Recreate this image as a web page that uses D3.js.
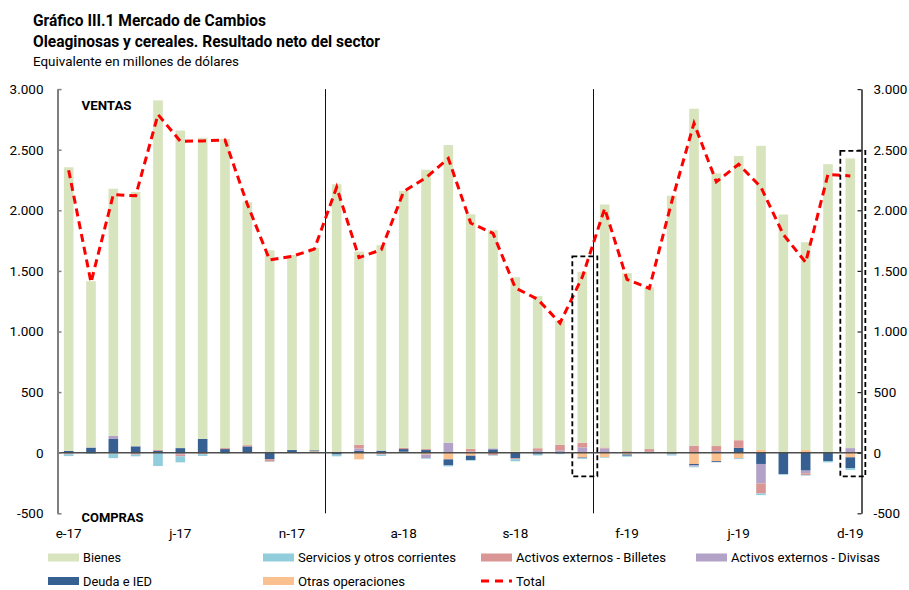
<!DOCTYPE html>
<html>
<head>
<meta charset="utf-8">
<script src="https://cdn.jsdelivr.net/npm/d3@7"></script>
<style>
  body { margin: 0; background: #fff; }
  svg { display: block; font-family: Roboto, "Liberation Sans", sans-serif; }
</style>
</head>
<body>
<svg id="chart" width="909" height="590"></svg>
<script>
// meses (ene-2017 a dic-2019)
const months = [
  '2017-01','2017-02','2017-03','2017-04','2017-05','2017-06','2017-07','2017-08','2017-09','2017-10','2017-11','2017-12',
  '2018-01','2018-02','2018-03','2018-04','2018-05','2018-06','2018-07','2018-08','2018-09','2018-10','2018-11','2018-12',
  '2019-01','2019-02','2019-03','2019-04','2019-05','2019-06','2019-07','2019-08','2019-09','2019-10','2019-11','2019-12'
];
const tickMonths = ['2017-01','2017-06','2017-11','2018-04','2018-09','2019-02','2019-07','2019-12'];
const tickLabels = ['e-17','j-17','n-17','a-18','s-18','f-19','j-19','d-19'];
const yTicks = [-500, 0, 500, 1000, 1500, 2000, 2500, 3000];

// millones de USD
const bienes    = [2340,1370,2040,2095,2885,2620,2485,2550,2005,1670,1610,1670, 2210,1595,1695,2120,2305,2455,1935,1800,1440,1255,1025,1410, 2005,1470,1335,2120,2780,2250,2345,2510,1965,1715,2380,2390];
const servicios = [-15,-10,-40,-15,-110,-50,-15,-8,-5,-3,-3,0, -15,0,-12,0,-5,-8,-6,-5,-18,-8,-12,-5, -5,-8,-5,-10,-5,0,-8,-14,-6,-5,-11,-14];
const billetes  = [-5,0,-5,-15,8,-15,-12,8,10,-18,0,0, 5,30,-15,10,8,0,22,-20,-8,22,45,38, 8,12,22,-5,58,40,63,-83,0,-14,0,0];
const divisas   = [-8,5,25,5,0,-15,0,0,0,0,0,0, 0,20,0,0,-30,83,10,8,0,15,20,44, 35,0,0,0,-12,15,0,-160,0,-22,0,38];
const deuda     = [15,40,113,52,14,38,113,25,52,-55,22,8, -15,15,17,22,22,-50,-35,28,-45,-10,0,-6, 0,-10,8,-8,-10,-8,40,-93,-176,-148,-69,-90];
const otras     = [0,0,0,0,0,0,0,5,0,0,0,12, 0,-55,0,8,-15,-55,-25,0,8,-5,0,-40, -38,-15,0,0,-93,-70,-45,22,0,22,0,-38];
const total     = [2330,1405,2130,2120,2790,2570,2572,2580,2050,1590,1620,1680, 2190,1610,1675,2155,2270,2428,1895,1810,1360,1266,1070,1450, 2015,1430,1356,2070,2718,2235,2380,2190,1800,1570,2297,2283];

// recuadros punteados (dic-18 y dic-19)
const boxMonths = ['2018-12', '2019-12'];
const boxTops = [1620, 2490];
const boxBottoms = [-195, -195];
const dividerMonths = ['2018-01', '2019-01'];

const series = [
  { key: 'bienes', label: 'Bienes', values: bienes, color: '#D7E4BD' },
  { key: 'servicios', label: 'Servicios y otros corrientes', values: servicios, color: '#92CDDC' },
  { key: 'billetes', label: 'Activos externos - Billetes', values: billetes, color: '#D99694' },
  { key: 'divisas', label: 'Activos externos - Divisas', values: divisas, color: '#B3A2C7' },
  { key: 'deuda', label: 'Deuda e IED', values: deuda, color: '#376092' },
  { key: 'otras', label: 'Otras operaciones', values: otras, color: '#FAC090' },
];
const color = Object.fromEntries(series.map((s) => [s.key, s.color]));

const table = months.map((m, i) => {
  const row = { month: m, total: total[i] };
  series.forEach((s) => { row[s.key] = s.values[i]; });
  return row;
});

const svg = d3.select('#chart');
const plotL = 57.5, plotR = 861.5, plotT = 89.1, plotB = 513.3;

const x = d3.scaleBand().domain(months).range([plotL, plotR]).paddingInner(0.57).paddingOuter(0.285);
const y = d3.scaleLinear().domain([-500, 3000]).range([plotB, plotT]);
const step = x.step(), bw = x.bandwidth();
const cx = (m) => x(m) + bw / 2;

const es = d3.formatLocale({ decimal: ',', thousands: '.', grouping: [3], currency: ['$', ''], minus: '-' });
const fmt = es.format(',');

// títulos
const titles = [
  { t: 'Gráfico III.1 Mercado de Cambios', y: 26, w: 233, size: 16, weight: 700 },
  { t: 'Oleaginosas y cereales. Resultado neto del sector', y: 47, w: 347, size: 16, weight: 700 },
  { t: 'Equivalente en millones de dólares', y: 65.5, w: 206, size: 13.5, weight: 400 },
];
svg.selectAll('text.title').data(titles).enter().append('text')
  .attr('class', 'title').attr('x', 33).attr('y', (d) => d.y)
  .attr('font-size', (d) => d.size).attr('font-weight', (d) => d.weight).attr('fill', '#000')
  .attr('textLength', (d) => d.w).attr('lengthAdjust', 'spacingAndGlyphs')
  .text((d) => d.t);

// barras apiladas (lo más cercano al cero primero, bienes arriba)
const stack = d3.stack()
  .keys(['otras', 'deuda', 'divisas', 'billetes', 'servicios', 'bienes'])
  .offset(d3.stackOffsetDiverging);
const layers = stack(table);

svg.append('g').selectAll('g').data(layers).enter().append('g')
  .attr('fill', (d) => color[d.key])
  .selectAll('rect').data((d) => d).enter().append('rect')
  .attr('x', (d) => x(d.data.month))
  .attr('width', bw)
  .attr('y', (d) => y(Math.max(d[0], d[1])))
  .attr('height', (d) => Math.abs(y(d[0]) - y(d[1])));

// divisiones de año
svg.append('g').selectAll('line').data(dividerMonths).enter().append('line')
  .attr('x1', (d) => cx(d) - step / 2).attr('x2', (d) => cx(d) - step / 2)
  .attr('y1', plotT).attr('y2', plotB)
  .attr('stroke', '#111').attr('stroke-width', 1);

// línea del cero
svg.append('line')
  .attr('x1', plotL).attr('x2', plotR).attr('y1', y(0)).attr('y2', y(0))
  .attr('stroke', '#4d4d4d').attr('stroke-width', 1.4);

// ejes
const yl = svg.append('g').attr('transform', `translate(${plotL},0)`)
  .call(d3.axisLeft(y).tickValues(yTicks).tickFormat(fmt).tickSizeInner(-4).tickSizeOuter(0).tickPadding(14));
const yr = svg.append('g').attr('transform', `translate(${plotR},0)`)
  .call(d3.axisRight(y).tickValues(yTicks).tickFormat(fmt).tickSizeInner(-4).tickSizeOuter(0).tickPadding(12));
[yl, yr].forEach((g) => {
  g.selectAll('text').attr('font-size', 13.5).attr('fill', '#000').attr('font-family', 'Roboto, sans-serif');
});
yl.select('.domain').attr('stroke', '#7f7f7f').attr('stroke-width', 2);
yl.selectAll('.tick line').attr('stroke', '#7f7f7f').attr('stroke-width', 1.5);
yr.select('.domain').attr('stroke', '#222').attr('stroke-width', 1.5);
yr.selectAll('.tick line').attr('stroke', '#222').attr('stroke-width', 1.2);

// etiquetas del eje x
svg.append('g').selectAll('text').data(tickMonths).enter().append('text')
  .attr('x', (d) => cx(d)).attr('y', 538).attr('text-anchor', 'middle')
  .attr('font-size', 13.5).attr('fill', '#000')
  .text((d, i) => tickLabels[i]);

// línea de total
svg.append('path').datum(table)
  .attr('fill', 'none').attr('stroke', '#FF0000').attr('stroke-width', 3)
  .attr('stroke-dasharray', '8,5')
  .attr('d', d3.line().x((d) => cx(d.month)).y((d) => y(d.total)));

// recuadros
svg.append('g').selectAll('rect').data(boxMonths).enter().append('rect')
  .attr('x', (d) => cx(d) - 10)
  .attr('y', (d, i) => y(boxTops[i]))
  .attr('width', 25)
  .attr('height', (d, i) => y(boxBottoms[i]) - y(boxTops[i]))
  .attr('fill', 'none').attr('stroke', '#000').attr('stroke-width', 1.8)
  .attr('stroke-dasharray', '5,3');

// VENTAS / COMPRAS
svg.append('text').attr('x', 81.5).attr('y', 110).attr('font-size', 13).attr('font-weight', 700)
  .attr('textLength', 50).attr('lengthAdjust', 'spacingAndGlyphs').text('VENTAS');
svg.append('text').attr('x', 81.5).attr('y', 521.5).attr('font-size', 13).attr('font-weight', 700)
  .attr('textLength', 62).attr('lengthAdjust', 'spacingAndGlyphs').text('COMPRAS');

// leyenda
const legendItems = [
  { key: 'bienes', x: 48, y: 557.5, w: 38 },
  { key: 'servicios', x: 263, y: 557.5, w: 158 },
  { key: 'billetes', x: 481, y: 557.5, w: 150 },
  { key: 'divisas', x: 696, y: 557.5, w: 149 },
  { key: 'deuda', x: 48, y: 581, w: 69 },
  { key: 'otras', x: 263, y: 581, w: 107 },
  { key: 'total', x: 481, y: 581, w: 29 },
];
const lg = svg.append('g').selectAll('g').data(legendItems).enter().append('g')
  .attr('transform', (d) => `translate(${d.x},${d.y})`);
lg.each(function (d) {
  const g = d3.select(this);
  if (d.key === 'total') {
    g.append('line').attr('x1', 0).attr('x2', 31).attr('y1', 0).attr('y2', 0)
      .attr('stroke', '#FF0000').attr('stroke-width', 3).attr('stroke-dasharray', '8,6');
  } else {
    g.append('rect').attr('x', 0).attr('y', -4).attr('width', 31).attr('height', 8).attr('fill', color[d.key]);
  }
  const label = d.key === 'total' ? 'Total' : series.find((s) => s.key === d.key).label;
  g.append('text').attr('x', 35).attr('y', 4.8).attr('font-size', 13.5).attr('fill', '#000')
    .attr('textLength', d.w).attr('lengthAdjust', 'spacingAndGlyphs').text(label);
});
</script>
</body>
</html>
